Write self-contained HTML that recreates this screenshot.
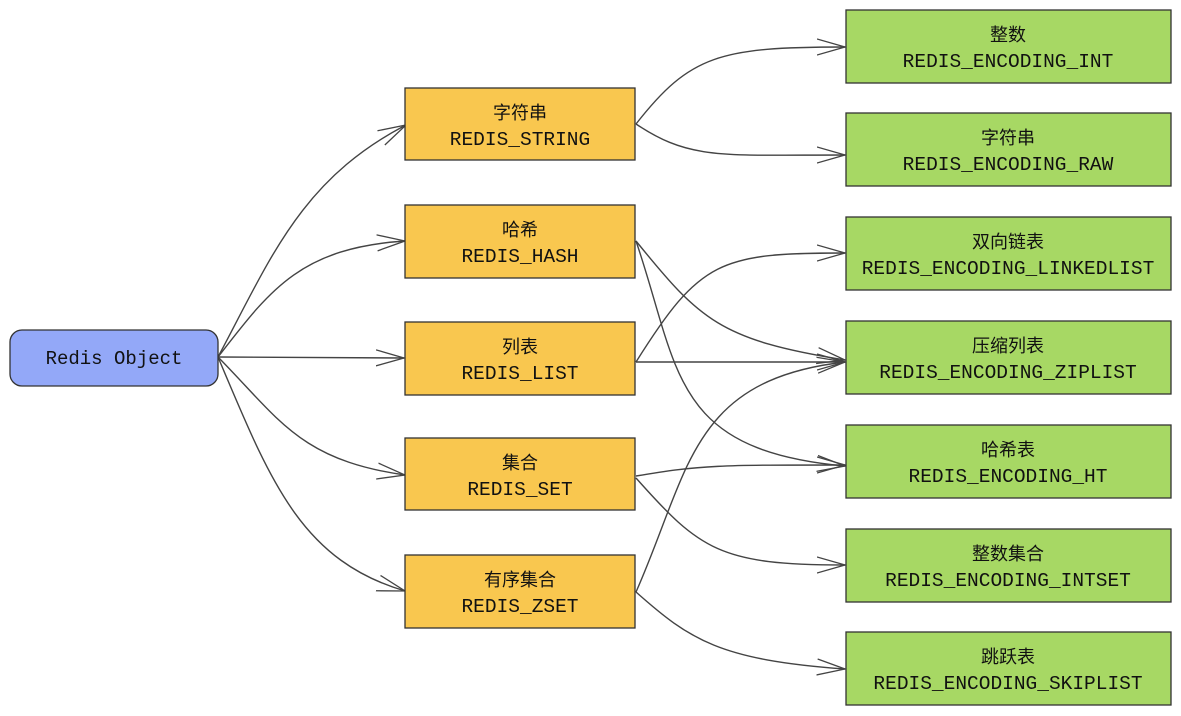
<!DOCTYPE html>
<html><head><meta charset="utf-8"><style>
html,body{margin:0;padding:0;background:#fff;width:1181px;height:716px;overflow:hidden}
svg{display:block}
text{font-family:"Liberation Mono","Noto Sans CJK SC",monospace;fill:#111}
.cn{font-family:"Liberation Sans","Noto Sans CJK SC",sans-serif;font-size:18px}
.en{font-size:19.5px}
</style></head><body>
<svg width="1181" height="716" viewBox="0 0 1181 716" xmlns="http://www.w3.org/2000/svg">
<defs>
<marker id="a" markerWidth="30" markerHeight="20" refX="28" refY="10" orient="auto" markerUnits="userSpaceOnUse">
<path d="M0,2 L28,10 L0,18" fill="none" stroke="#444" stroke-width="1.3"/>
</marker>
</defs>
<g fill="none" stroke="#444" stroke-width="1.4" marker-end="url(#a)">
<!-- root edges -->
<path d="M218,357 C270,260 300,180 406,125"/>
<path d="M218,357 C270,290 300,248 405,241"/>
<path d="M218,357 L404,358"/>
<path d="M218,357 C280,420 300,460 405,475"/>
<path d="M218,357 C270,480 300,560 405,591"/>
<!-- string -->
<path d="M636,124 C690,55 720,47 845,47"/>
<path d="M636,124 C690,160 720,155 845,155"/>
<!-- hash -->
<path d="M636,241 C700,320 720,340 845,360"/>
<path d="M636,241 C680,370 670,450 845,466"/>
<!-- list -->
<path d="M636,362 C700,260 720,253 845,253"/>
<path d="M636,362 L845,362"/>
<!-- set -->
<path d="M636,476 C700,465 720,465 845,465"/>
<path d="M636,478 C700,550 720,565 845,565"/>
<!-- zset -->
<path d="M636,592 C690,470 690,380 845,362"/>
<path d="M636,592 C690,640 720,660 845,669"/>
</g>
<!-- root -->
<rect x="10" y="330" width="208" height="56" rx="12" fill="#93a8f8" stroke="#333" stroke-width="1.3"/>
<text x="114" y="364" text-anchor="middle" class="en" style="font-size:19px">Redis Object</text>
<!-- yellow -->
<g fill="#f9c74f" stroke="#333" stroke-width="1.3">
<rect x="405" y="88" width="230" height="72"/>
<rect x="405" y="205" width="230" height="73"/>
<rect x="405" y="322" width="230" height="73"/>
<rect x="405" y="438" width="230" height="72"/>
<rect x="405" y="555" width="230" height="73"/>
</g>
<g text-anchor="middle">
<text x="520" y="119" class="cn">字符串</text><text x="520" y="145" class="en">REDIS_STRING</text>
<text x="520" y="236" class="cn">哈希</text><text x="520" y="262" class="en">REDIS_HASH</text>
<text x="520" y="353" class="cn">列表</text><text x="520" y="379" class="en">REDIS_LIST</text>
<text x="520" y="469" class="cn">集合</text><text x="520" y="495" class="en">REDIS_SET</text>
<text x="520" y="586" class="cn">有序集合</text><text x="520" y="612" class="en">REDIS_ZSET</text>
</g>
<!-- green -->
<g fill="#a7d864" stroke="#333" stroke-width="1.3">
<rect x="846" y="10" width="325" height="73"/>
<rect x="846" y="113" width="325" height="73"/>
<rect x="846" y="217" width="325" height="73"/>
<rect x="846" y="321" width="325" height="73"/>
<rect x="846" y="425" width="325" height="73"/>
<rect x="846" y="529" width="325" height="73"/>
<rect x="846" y="632" width="325" height="73"/>
</g>
<g text-anchor="middle">
<text x="1008" y="41" class="cn">整数</text><text x="1008" y="67" class="en">REDIS_ENCODING_INT</text>
<text x="1008" y="144" class="cn">字符串</text><text x="1008" y="170" class="en">REDIS_ENCODING_RAW</text>
<text x="1008" y="248" class="cn">双向链表</text><text x="1008" y="274" class="en">REDIS_ENCODING_LINKEDLIST</text>
<text x="1008" y="352" class="cn">压缩列表</text><text x="1008" y="378" class="en">REDIS_ENCODING_ZIPLIST</text>
<text x="1008" y="456" class="cn">哈希表</text><text x="1008" y="482" class="en">REDIS_ENCODING_HT</text>
<text x="1008" y="560" class="cn">整数集合</text><text x="1008" y="586" class="en">REDIS_ENCODING_INTSET</text>
<text x="1008" y="663" class="cn">跳跃表</text><text x="1008" y="689" class="en">REDIS_ENCODING_SKIPLIST</text>
</g>
</svg>
</body></html>
